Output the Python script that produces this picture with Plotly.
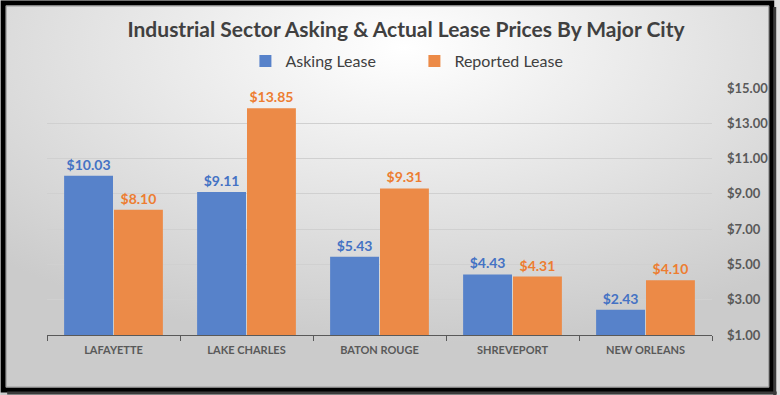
import plotly.graph_objects as go

cities = ["LAFAYETTE", "LAKE CHARLES", "BATON ROUGE", "SHREVEPORT", "NEW ORLEANS"]
asking = [10.03, 9.11, 5.43, 4.43, 2.43]
reported = [8.10, 13.85, 9.31, 4.31, 4.10]
y_ticks = [1, 3, 5, 7, 9, 11, 13, 15]
y_tick_labels = ["$%.2f" % v for v in y_ticks]

W, H = 780, 395
L, R, T, B = 47, 65, 88, 60
PW, PH = W - L - R, H - T - B

def px_x(px):
    return (px - L) / PW

def px_y(py):
    return (H - B - py) / PH

BLUE = "#5782CA"
ORANGE = "#EC8A47"
FONT = "Lato, 'Open Sans', sans-serif"

fig = go.Figure()
fig.add_trace(go.Bar(
    name="Asking Lease", x=cities, y=asking,
    marker=dict(color=BLUE, line=dict(width=0)),
    text=["$%.2f" % v for v in asking], textposition="outside",
    textfont=dict(color="#4472C4", size=14, family=FONT, weight="bold"),
    cliponaxis=False,
))
fig.add_trace(go.Bar(
    name="Reported Lease", x=cities, y=reported,
    marker=dict(color=ORANGE, line=dict(width=0)),
    text=["$%.2f" % v for v in reported], textposition="outside",
    textfont=dict(color="#ED7D31", size=14, family=FONT, weight="bold"),
    cliponaxis=False,
))

svg = ("data:image/svg+xml;utf8,<svg xmlns='http://www.w3.org/2000/svg' width='780' height='395'>"
       "<defs><radialGradient id='g' cx='0.52' cy='0.12' r='0.75' gradientUnits='objectBoundingBox'>"
       "<stop offset='0' stop-color='%23ffffff'/><stop offset='1' stop-color='%23cbcbcb'/>"
       "</radialGradient></defs><rect width='780' height='395' fill='url(%23g)'/></svg>")

fig.update_layout(
    width=W, height=H,
    margin=dict(l=L, r=R, t=T, b=B),
    paper_bgcolor="#e0e0e0",
    plot_bgcolor="rgba(0,0,0,0)",
    barmode="group", bargap=0.25, bargroupgap=0.02,
    font=dict(family=FONT, color="#404040"),
    title=dict(text="Industrial Sector Asking & Actual Lease Prices By Major City",
               x=406 / W, xanchor="center", y=1 - 30 / H, yanchor="middle",
               font=dict(size=21, color="#404040", family=FONT, weight="bold")),
    legend=dict(orientation="h", x=0.5525, xanchor="center", y=px_y(61), yanchor="middle",
                font=dict(size=16, color="#404040", family=FONT),
                entrywidth=124, bgcolor="rgba(0,0,0,0)", itemwidth=30),
    xaxis=dict(showgrid=False, showline=True, linecolor="#595959", linewidth=1,
               ticks="outside", tickson="boundaries", ticklen=5, tickcolor="#595959",
               ticklabelstandoff=5,
               tickfont=dict(size=11, color="#595959", family=FONT, weight="bold")),
    yaxis=dict(side="right", range=[1, 15], tickvals=y_ticks, ticktext=y_tick_labels,
               showgrid=True, gridcolor="#d0d0d0", gridwidth=1, zeroline=False,
               showline=False, ticklabelstandoff=14,
               tickfont=dict(size=13, color="#595959", family=FONT, weight="bold")),
    images=[dict(source=svg, xref="paper", yref="paper",
                 x=px_x(0), y=px_y(0), sizex=W / PW, sizey=H / PH,
                 xanchor="left", yanchor="top", sizing="stretch", layer="below")],
    shapes=[
        dict(type="rect", xref="paper", yref="paper",
             x0=px_x(3), x1=px_x(775), y0=px_y(3), y1=px_y(390),
             line=dict(color="#000000", width=5), fillcolor="rgba(0,0,0,0)", layer="above"),
        dict(type="line", xref="paper", yref="paper",
             x0=px_x(778), x1=px_x(778), y0=px_y(7), y1=px_y(395),
             line=dict(color="#3a3a3a", width=3), layer="above"),
        dict(type="line", xref="paper", yref="paper",
             x0=px_x(7), x1=px_x(780), y0=px_y(393), y1=px_y(393),
             line=dict(color="#3a3a3a", width=3), layer="above"),
        dict(type="rect", xref="paper", yref="paper",
             x0=px_x(6), x1=px_x(772), y0=px_y(6), y1=px_y(387),
             line=dict(color="#9a9a9a", width=1), fillcolor="rgba(0,0,0,0)", layer="above"),
    ],
)

fig.write_html("out.html", config={"displayModeBar": False},
               post_script="document.body.style.margin='0';document.body.style.overflow='hidden';")
